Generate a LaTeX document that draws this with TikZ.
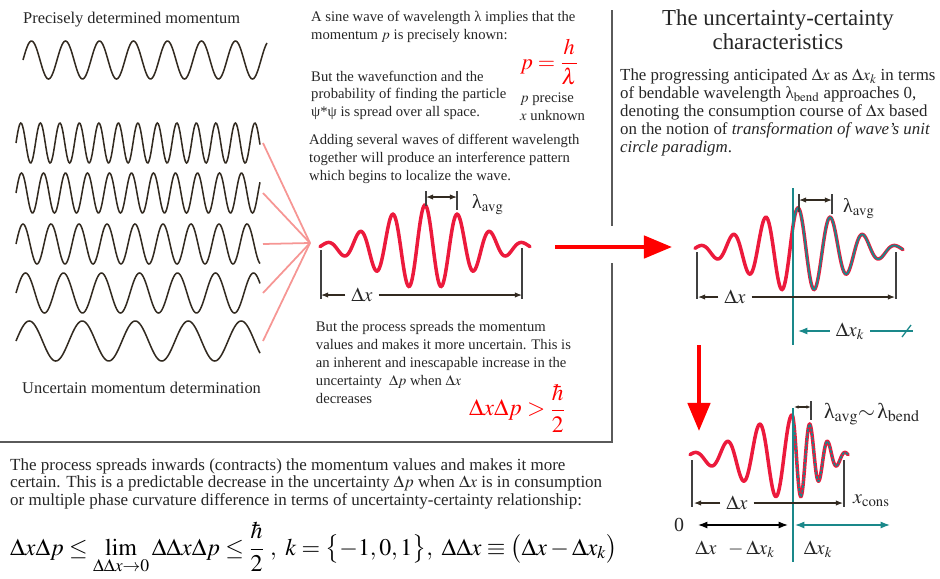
\documentclass[tikz,border=0pt]{standalone}
\usepackage{mathptmx}
\usepackage[no-math]{fontspec}
\setmainfont{Liberation Serif}
\usetikzlibrary{arrows.meta,positioning,calc}
\definecolor{pktred}{RGB}{236,26,60}
\definecolor{bigred}{RGB}{255,0,0}
\definecolor{kteal}{RGB}{26,136,138}
\definecolor{ink}{RGB}{50,42,32}
\definecolor{salmon}{RGB}{246,150,148}
\definecolor{divider}{RGB}{90,90,90}
\definecolor{prose}{RGB}{38,38,38}
\newcommand{\uplam}{\mbox{λ}}

\begin{document}
\begin{tikzpicture}[x=0.03cm,y=-0.03cm,>={Latex[length=6pt,width=4.5pt]},
 wave/.style={ink,line width=1.3pt},
 packet/.style={pktred,line width=3pt,line cap=round},
 kpart/.style={kteal,line width=1.5pt},
 dim/.style={ink,line width=0.9pt},
 kdim/.style={kteal,line width=1.1pt},
 bar/.style={black!75,line width=0.9pt},
 txt/.style={anchor=base west,inner sep=0pt,align=left,text=prose},
 body/.style={txt,font=\fontsize{12.5}{15.2}\selectfont},
 lbl/.style={inner xsep=5pt,inner ysep=1pt,text=black!85,font=\fontsize{17}{20}\selectfont},
 bigarrow/.style={bigred,line width=3.5pt,-{Triangle[length=24pt,width=19pt]}}]
\useasboundingbox (0,0) rectangle (940,578);

% precisely known wave
\node[txt,font=\fontsize{14}{17}\selectfont] (precise) at (23,23.3) {Precisely determined momentum};
\draw[wave] plot[domain=23:267,samples=220] (\x,{60-19*sin(360/34*(\x-23))});

% waves of several wavelengths
\foreach \yc/\lam [count=\i] in {143/19.5,193/22,244/28,293/38,341/53}{
  \draw[wave] plot[domain=16:260,samples=260] (\x,{\yc-20*sin(360/\lam*(\x-16))});
  \coordinate (w\i) at (263,\yc);
}
\node[txt,font=\fontsize{14}{17}\selectfont] (uncertain) at (22,393) {Uncertain momentum determination};
\coordinate (sum) at (310,243);
\foreach \i in {1,...,5}
  \draw[salmon,line width=1.5pt] (w\i) -- (sum);

% middle text (nodes sit on the baseline of their last line)
\node[body] (sine) at (311,39) {A sine wave of wavelength λ implies that the\\momentum $p$ is precisely known:};
\node[body] (spread) at (311,116.7) {But the wavefunction and the\\probability of finding the particle\\ψ*ψ is spread over all space.};
\node[body] (pknown) at (520,120) {$p$ precise\\$x$ unknown};
\node[anchor=west,inner sep=0pt,text=red,font=\fontsize{19}{22}\selectfont] (debroglie) at (520,62) {$\displaystyle p=\frac{h}{\lambda}$};
\node[body] (adding) at (309,180) {Adding several waves of different wavelength\\together will produce an interference pattern\\which begins to localize the wave.};

% wave packet
\draw[packet] plot[domain=320:530,samples=240] (\x,{247-42*exp(-((\x-425)/65)^2)*cos(360/32.5*(\x-425))});
\coordinate (mL) at (321,295);
\coordinate (mR) at (522,295);
\draw[bar] (321,250) -- (321,299);
\draw[bar] (522,248) -- (522,299);
\node[lbl] (mdx) at (362,295) {$\Delta x$};
\draw[dim,->] (mdx) -- (mL);
\draw[dim,->] (mdx) -- (mR);
\coordinate (mla) at (426,197);
\coordinate (mlb) at (457,197);
\draw[bar] (426,191) -- (426,206);
\draw[bar] (457,191) -- (457,210);
\draw[dim,<->] (mla) -- (mlb);
\node[lbl,anchor=west,inner sep=0pt] (mlam) at (472,205) {$\uplam_{\mathrm{avg}}$};

\node[body] (process) at (315.7,403) {But the process spreads the momentum\\values and makes it more uncertain. This is\\an inherent and inescapable increase in the\\uncertainty\ \ $\Delta p$ when $\Delta x$\\decreases};
\node[anchor=west,inner sep=0pt,text=red,font=\fontsize{20}{23}\selectfont] (heis) at (469,408) {$\displaystyle \Delta x\Delta p>\frac{\hbar}{2}$};

% dividers
\draw[divider,line width=1.5pt] (612,10) -- (612,226);
\draw[divider,line width=1.5pt] (612,263) |- (0,442);

% red arrows
\coordinate (hA) at (555,247);
\coordinate (hB) at (672,247);
\draw[bigarrow] (hA) -- (hB);
\coordinate (vA) at (699,345);
\coordinate (vB) at (699,431);
\draw[bigarrow] (vA) -- (vB);

% right column text
\node[anchor=base,align=center,inner sep=0pt,text=black!85,font=\fontsize{19.5}{20.7}\selectfont] (title) at (778,49.3) {The uncertainty-certainty\\characteristics};
\node[txt,font=\fontsize{14.4}{15.5}\selectfont] (bend) at (620,152.8) {The progressing anticipated $\Delta x$ as $\Delta x_k$ in terms\\of bendable wavelength $\uplam_{\mathrm{bend}}$ approaches 0,\\denoting the consumption course of $\Delta$x based\\on the notion of \textit{transformation of wave’s unit}\\\textit{circle paradigm}.};

% packet cut by x_k
\draw[packet] plot[domain=695:903,samples=240] (\x,{250-42*exp(-((\x-798)/65)^2)*cos(360/32.5*(\x-798))});
\draw[kpart] plot[domain=793:903,samples=140] (\x,{250-42*exp(-((\x-798)/65)^2)*cos(360/32.5*(\x-798))});
\coordinate (k1top) at (793,188);
\coordinate (k1bot) at (793,345);
\draw[kteal,line width=1.2pt] (k1top) -- (k1bot);
\coordinate (aL) at (698,297);
\coordinate (aR) at (895,297);
\draw[bar] (697,252) -- (697,299);
\draw[bar] (896,252) -- (896,299);
\node[lbl] (adx) at (735,297) {$\Delta x$};
\draw[dim,->] (adx) -- (aL);
\draw[dim,->] (adx) -- (aR);
\coordinate (ala) at (799,200);
\coordinate (alb) at (832,200);
\draw[bar] (799,194) -- (799,212);
\draw[bar] (832,194) -- (832,214);
\draw[dim,<->] (ala) -- (alb);
\node[lbl,anchor=west,inner sep=0pt] (alam) at (843,209) {$\uplam_{\mathrm{avg}}$};
\node[lbl] (adxk) at (850,331) {$\Delta x_k$};
\coordinate (akL) at (798,331);
\coordinate (akR) at (913,331);
\draw[kdim,-{Latex[length=8pt,width=6pt]}] (adxk) -- (akL);
\draw[kdim] (adxk) -- (akR);
\draw[kdim] (902,337) -- (911,325);

% packet compressed past x_k
\draw[packet] plot[domain=-102:0,samples=150] ({792+\x},{457-42*exp(-(\x/65)^2)*cos(360/32.5*\x)});
\draw[packet] plot[domain=0:102,samples=150] ({792+0.55*\x},{457-42*exp(-(\x/65)^2)*cos(360/32.5*\x)});
\draw[kteal,line width=1.4pt,dash pattern=on 2.5pt off 1.2pt] plot[domain=0:102,samples=150] ({792+0.55*\x},{457-42*exp(-(\x/65)^2)*cos(360/32.5*\x)});
\coordinate (k2top) at (793,408);
\coordinate (k2bot) at (793,562);
\draw[kteal,line width=1.2pt] (k2top) -- (k2bot);
\coordinate (bL) at (694,503);
\coordinate (bR) at (843,503);
\draw[bar] (692,460) -- (692,507);
\draw[bar] (844,460) -- (844,507);
\node[lbl] (bdx) at (737,503) {$\Delta x$};
\draw[dim,->] (bdx) -- (bL);
\draw[dim,->] (bdx) -- (bR);
\node[lbl,anchor=west,inner sep=0pt] (xcons) at (853,501) {$x_{\mathrm{cons}}$};
\coordinate (bla) at (794,407);
\coordinate (blb) at (811,407);
\draw[bar] (811,401) -- (811,420);
\draw[dim,{Latex[length=4pt,width=3pt]}-{Latex[length=4pt,width=3pt]}] (bla) -- (blb);
\node[lbl,anchor=west,inner sep=0pt,font=\fontsize{18.5}{21}\selectfont] (lbend) at (824,414) {$\uplam_{\mathrm{avg}}{\sim}\,\uplam_{\mathrm{bend}}$};
\node[lbl] (zero) at (679,525) {0};
\coordinate (zA) at (698,525);
\coordinate (zB) at (788,525);
\draw[black,line width=1.1pt,{Latex[length=8pt,width=6pt]}-{Latex[length=8pt,width=6pt]}] (zA) -- (zB);
\coordinate (kA) at (795,525);
\coordinate (kB) at (890,525);
\draw[kdim,{Latex[length=8pt,width=6pt]}-{Latex[length=8pt,width=6pt]}] (kA) -- (kB);
\node[lbl] (diff) at (735,549) {$\Delta x\;\;-\Delta x_k$};
\node[lbl] (dxk) at (818,549) {$\Delta x_k$};

% bottom statement
\node[txt,font=\fontsize{14.5}{14.9}\selectfont] (certain) at (10,505) {The process spreads inwards (contracts) the momentum values and makes it more\\certain. This is a predictable decrease in the uncertainty $\Delta p$ when $\Delta x$ is in consumption\\or multiple phase curvature difference in terms of uncertainty-certainty relationship:};
\node[txt,text=black,font=\fontsize{20.4}{24}\selectfont] (limit) at (10,555) {$\displaystyle \Delta x\Delta p\le\lim_{\Delta\Delta x\to 0}\Delta\Delta x\Delta p\le\frac{\hbar}{2}\ ,\ k=\bigl\{-1,0,1\bigr\},\ \Delta\Delta x\equiv\bigl(\Delta x-\Delta x_k\bigr)$};
\end{tikzpicture}
\end{document}
